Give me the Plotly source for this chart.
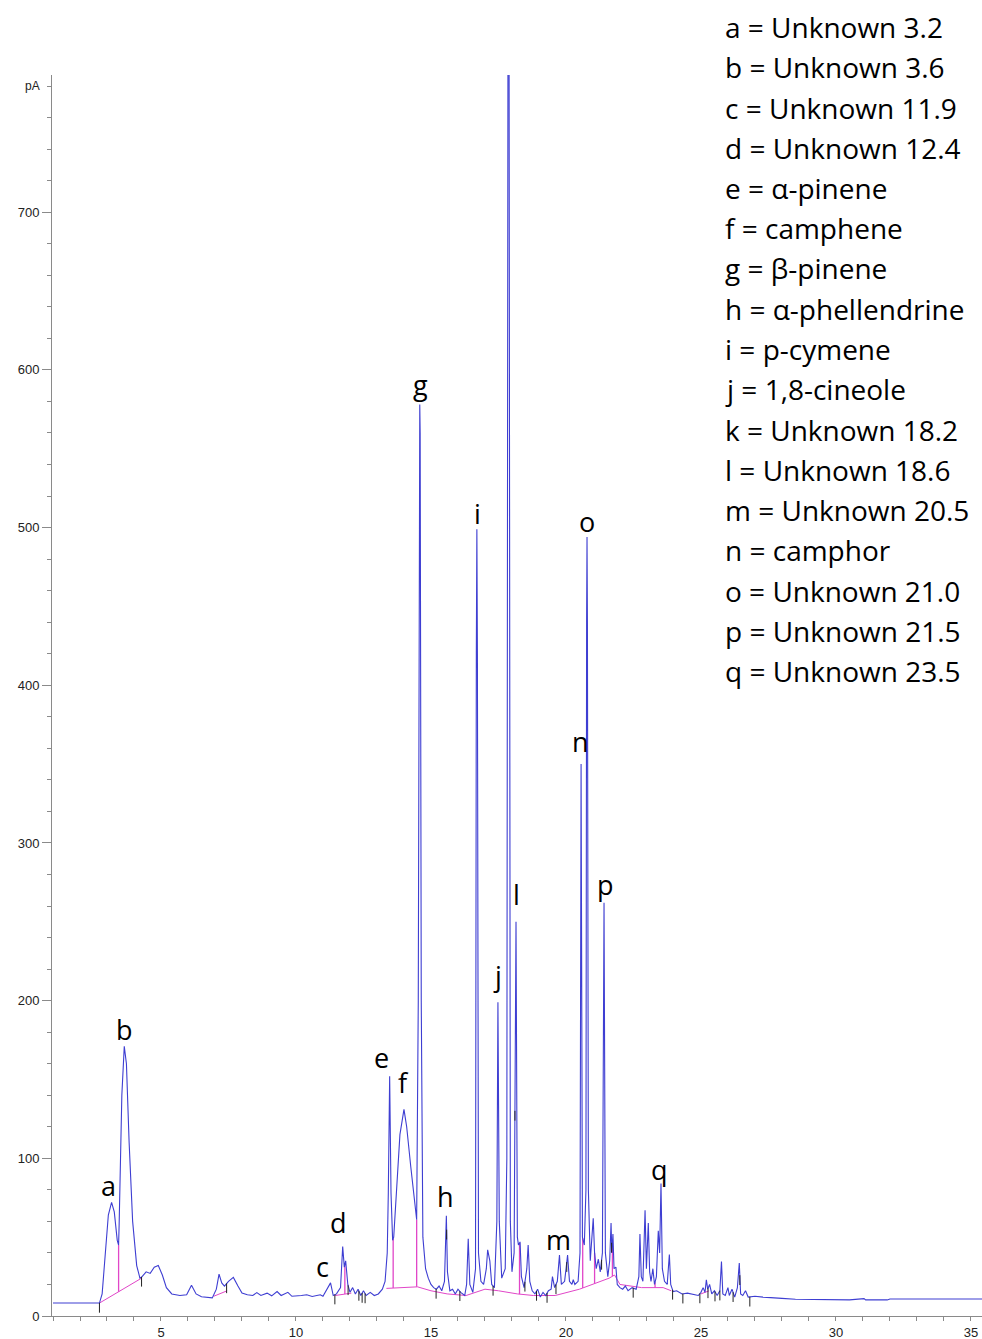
import numpy as np
import plotly.graph_objects as go

# FID chromatogram trace: retention time (min) and detector signal (pA)
time_min = [
    1.00, 2.72, 2.82, 2.95, 3.05, 3.17, 3.27, 3.38, 3.43, 3.45, 3.50, 3.55, 3.64, 3.72, 3.82, 3.95,
    4.10, 4.22, 4.30, 4.45, 4.60, 4.75, 4.90, 5.05, 5.20, 5.40, 5.70, 5.95, 6.13, 6.30, 6.50, 6.90,
    7.05, 7.15, 7.25, 7.35, 7.50, 7.68, 7.85, 8.00, 8.20, 8.40, 8.55, 8.70, 8.93, 9.10, 9.30, 9.45,
    9.70, 9.85, 10.20, 10.40, 10.60, 10.90, 11.00, 11.28, 11.38, 11.50, 11.65, 11.73, 11.79, 11.84,
    11.92, 12.00, 12.10, 12.20, 12.30, 12.40, 12.50, 12.60, 12.75, 12.90, 13.05, 13.20, 13.30, 13.38,
    13.42, 13.47, 13.52, 13.58, 13.62, 13.72, 13.85, 14.00, 14.10, 14.25, 14.40, 14.47, 14.53, 14.57,
    14.585, 14.60, 14.64, 14.70, 14.80, 14.90, 15.00, 15.10, 15.20, 15.30, 15.40, 15.50, 15.53, 15.57,
    15.61, 15.70, 15.80, 15.90, 16.00, 16.10, 16.25, 16.32, 16.38, 16.44, 16.55, 16.65, 16.68, 16.70,
    16.72, 16.76, 16.85, 16.95, 17.05, 17.10, 17.18, 17.25, 17.35, 17.44, 17.48, 17.53, 17.62, 17.75,
    17.81, 17.84, 17.86, 17.89, 17.94, 18.00, 18.08, 18.15, 18.20, 18.24, 18.30, 18.35, 18.45, 18.55,
    18.60, 18.66, 18.75, 18.85, 18.95, 19.05, 19.15, 19.25, 19.35, 19.45, 19.50, 19.58, 19.68, 19.76,
    19.83, 19.95, 20.06, 20.13, 20.22, 20.27, 20.33, 20.45, 20.52, 20.56, 20.61, 20.68, 20.74, 20.765,
    20.78, 20.795, 20.83, 20.90, 20.97, 21.01, 21.06, 21.12, 21.20, 21.27, 21.35, 21.41, 21.46, 21.55,
    21.62, 21.67, 21.70, 21.74, 21.78, 21.85, 21.90, 22.00, 22.10, 22.20, 22.30, 22.45, 22.60, 22.70,
    22.74, 22.79, 22.85, 22.93, 22.98, 23.05, 23.10, 23.15, 23.22, 23.28, 23.35, 23.42, 23.47, 23.52,
    23.57, 23.65, 23.75, 23.83, 23.88, 23.97, 24.10, 24.30, 24.50, 24.70, 24.90, 25.00, 25.08, 25.15,
    25.20, 25.25, 25.32, 25.40, 25.50, 25.60, 25.70, 25.76, 25.81, 25.90, 26.00, 26.05, 26.15, 26.25,
    26.35, 26.42, 26.47, 26.55, 26.65, 26.75, 27.00, 27.30, 27.60, 28.00, 28.50, 29.50, 30.50, 31.04,
    31.10, 31.90, 32.00, 35.41,
]
signal_pa = [
    8.2, 8.2, 14, 45, 64, 72, 66, 48, 45, 58, 92, 140, 171, 160, 110, 60,
    32, 24, 25, 28, 27, 31, 32, 26, 18, 14, 13, 13.5, 19.5, 14, 12.2, 11.5,
    17, 26.5, 21, 19, 22, 24.5, 19, 14.5, 13.5, 13, 14.8, 13, 14.5, 12.8, 15.5, 13,
    15, 12.5, 13, 13.5, 12.4, 13.5, 12.5, 21, 13, 14, 18, 44, 31, 35,
    20, 15, 18, 14, 17, 13, 16, 13, 15, 13, 14, 17, 22, 40,
    78, 152, 78, 48, 50, 80, 115, 131, 120, 95, 70, 61, 200, 560,
    578, 560, 200, 50, 30, 24, 20, 18, 17, 19, 16, 22, 40, 63.5,
    28, 16, 17, 14, 17, 15, 13, 20, 49, 20, 15, 30, 420, 499,
    420, 40, 22, 20, 30, 42, 35, 20, 18, 60, 199, 60, 24, 30,
    100, 850, 950, 850, 60, 28, 40, 250, 50, 45, 47, 25, 18, 30,
    45, 22, 16, 14, 17, 12, 15, 13, 16, 17, 25, 18, 22, 38.6,
    20, 22, 38.6, 22, 20, 23, 20, 22, 40, 350, 50, 45, 80, 440,
    494, 440, 80, 35, 50, 62, 40, 30, 36, 28, 40, 262, 40, 25,
    35, 59, 40, 52, 30, 31, 20, 18, 17, 19, 16, 18, 17, 25,
    52, 25, 22, 67, 30, 59, 28, 22, 30, 20, 25, 54, 40, 84,
    30, 22, 20, 39, 20, 15.5, 16, 14, 14.5, 13.5, 13, 15, 18, 15,
    23, 17, 20, 14, 16, 13, 16, 34.5, 14, 13, 18, 13, 17, 12,
    18, 33.6, 14, 13, 16, 12, 12.5, 12, 11.8, 11.2, 10.6, 10.3, 10.2, 11,
    10.2, 10.2, 10.8, 10.8,
]

# Integration baseline drawn by the data system (segments split by None)
base_time = [2.72, 4.28, None, 6.95, 7.45, None, 11.45, 12.05, None,
             13.35, 14.50, 15.00, 15.60, 16.30, 17.00, 17.50, 18.20, 18.80, 19.60,
             20.50, 21.60, 21.80, 22.00, 22.80, 23.60, 23.90, None, 25.00, 25.30]
base_pa = [8.2, 24, None, 12.5, 16, None, 13, 14.5, None,
           17.5, 18.5, 16, 14, 13, 17, 16, 14, 13, 13,
           17, 24, 26, 20, 18, 18, 16, None, 14, 16]

# Peak-splitting drop lines and integration event marks (min)
drop_times = [3.43, 11.81, 13.60, 14.47, 18.28, 20.62, 21.06, 21.72, 23.30]
event_times = [2.72, 4.28, 7.43, 11.44, 11.93, 12.33, 12.45, 12.56, 15.19, 15.58, 16.07,
               17.30, 18.11, 18.48, 18.91, 19.30, 19.63, 20.03, 21.32, 21.69, 22.49,
               23.95, 24.33, 24.96, 25.26, 25.52, 25.70, 26.19, 26.44, 26.81]

# Peak identification
peak_ids = list("abcdefghijklmnopq")
peak_names = ["Unknown 3.2", "Unknown 3.6", "Unknown 11.9", "Unknown 12.4", "α-pinene",
              "camphene", "β-pinene", "α-phellendrine", "p-cymene", "1,8-cineole",
              "Unknown 18.2", "Unknown 18.6", "Unknown 20.5", "camphor", "Unknown 21.0",
              "Unknown 21.5", "Unknown 23.5"]

# Label placement (data coordinates, text centre)
label_x = [3.04, 3.63, 11.0, 11.56, 13.15, 14.0, 14.63, 15.52, 16.74, 17.48, 17.89,
           18.15, 19.74, 20.52, 20.78, 21.48, 23.48]
label_y = [82.5, 182, 31.7, 59.6, 163.7, 147.8, 590.7, 76.1, 508.9, 215.7, 797.6,
           267.1, 48.2, 364.2, 503.8, 273.5, 92.6]

TRACE = "rgb(62,62,210)"
BASE = "rgb(225,70,200)"

t = np.array(time_min)
s = np.array(signal_pa)
bt = np.array([v for v in base_time if v is not None])
bp = np.array([v for v in base_pa if v is not None])

fig = go.Figure()

fig.add_trace(go.Scatter(x=base_time, y=base_pa, mode="lines",
                         line=dict(color=BASE, width=1), connectgaps=False,
                         hoverinfo="skip"))

# drop lines from the signal down to the baseline
dx, dy = [], []
for tm in drop_times:
    dx += [tm, tm, None]
    dy += [float(np.interp(tm, t, s)), float(np.interp(tm, bt, bp)), None]
fig.add_trace(go.Scatter(x=dx, y=dy, mode="lines", line=dict(color=BASE, width=1.3),
                         hoverinfo="skip"))

fig.add_trace(go.Scatter(x=time_min, y=signal_pa, mode="lines",
                         line=dict(color=TRACE, width=1.1), hoverinfo="skip"))

# integration event ticks hanging below the trace
ev_y = [float(np.interp(tm, t, s)) - 3 for tm in event_times]
fig.add_trace(go.Scatter(x=event_times, y=ev_y, mode="markers",
                         marker=dict(symbol="line-ns", size=7,
                                     line=dict(color="#222", width=1)),
                         hoverinfo="skip"))

for pid, lx, ly in zip(peak_ids, label_x, label_y):
    fig.add_annotation(x=lx, y=ly, xref="x", yref="y", text=pid, showarrow=False,
                       font=dict(family="Open Sans", size=27, color="black"),
                       xanchor="center", yanchor="middle")

# peak key, top right
key_top_px = 27
key_step_px = 40.25
for i, (pid, name) in enumerate(zip(peak_ids, peak_names)):
    py = key_top_px + i * key_step_px
    fig.add_annotation(x=(723 - 52) / 930, y=(1316 - py) / 1241, xref="paper", yref="paper",
                       text=f"{pid} = {name}", showarrow=False,
                       font=dict(family="Open Sans", size=28, color="black"),
                       xanchor="left", yanchor="middle")

fig.add_annotation(x=0, y=780, xref="paper", yref="y", text="pA", showarrow=False,
                   xanchor="right", yanchor="middle", xshift=-10,
                   font=dict(family="Liberation Sans", size=12, color="#222"))

axis_col = "#8a8a8a"
fig.update_xaxes(range=[0.963, 35.41], tickvals=[5, 10, 15, 20, 25, 30, 35],
                 ticks="outside", ticklen=4, tickcolor=axis_col,
                 minor=dict(dtick=1, tick0=0, ticks="outside", ticklen=4, tickcolor=axis_col),
                 showline=True, linecolor=axis_col, linewidth=1,
                 showgrid=False, zeroline=False,
                 tickfont=dict(family="Liberation Sans", size=13, color="#222"))
fig.update_yaxes(range=[0, 787], tickvals=[0, 100, 200, 300, 400, 500, 600, 700],
                 ticks="outside", ticklen=9, tickcolor=axis_col,
                 minor=dict(dtick=20, tick0=0, ticks="outside", ticklen=4, tickcolor=axis_col),
                 showline=True, linecolor=axis_col, linewidth=1,
                 showgrid=False, zeroline=False,
                 tickfont=dict(family="Liberation Sans", size=13, color="#222"))

fig.update_layout(width=982, height=1339, showlegend=False,
                  margin=dict(l=52, r=0, t=75, b=23),
                  paper_bgcolor="white", plot_bgcolor="white")

fig.write_html("out.html")
